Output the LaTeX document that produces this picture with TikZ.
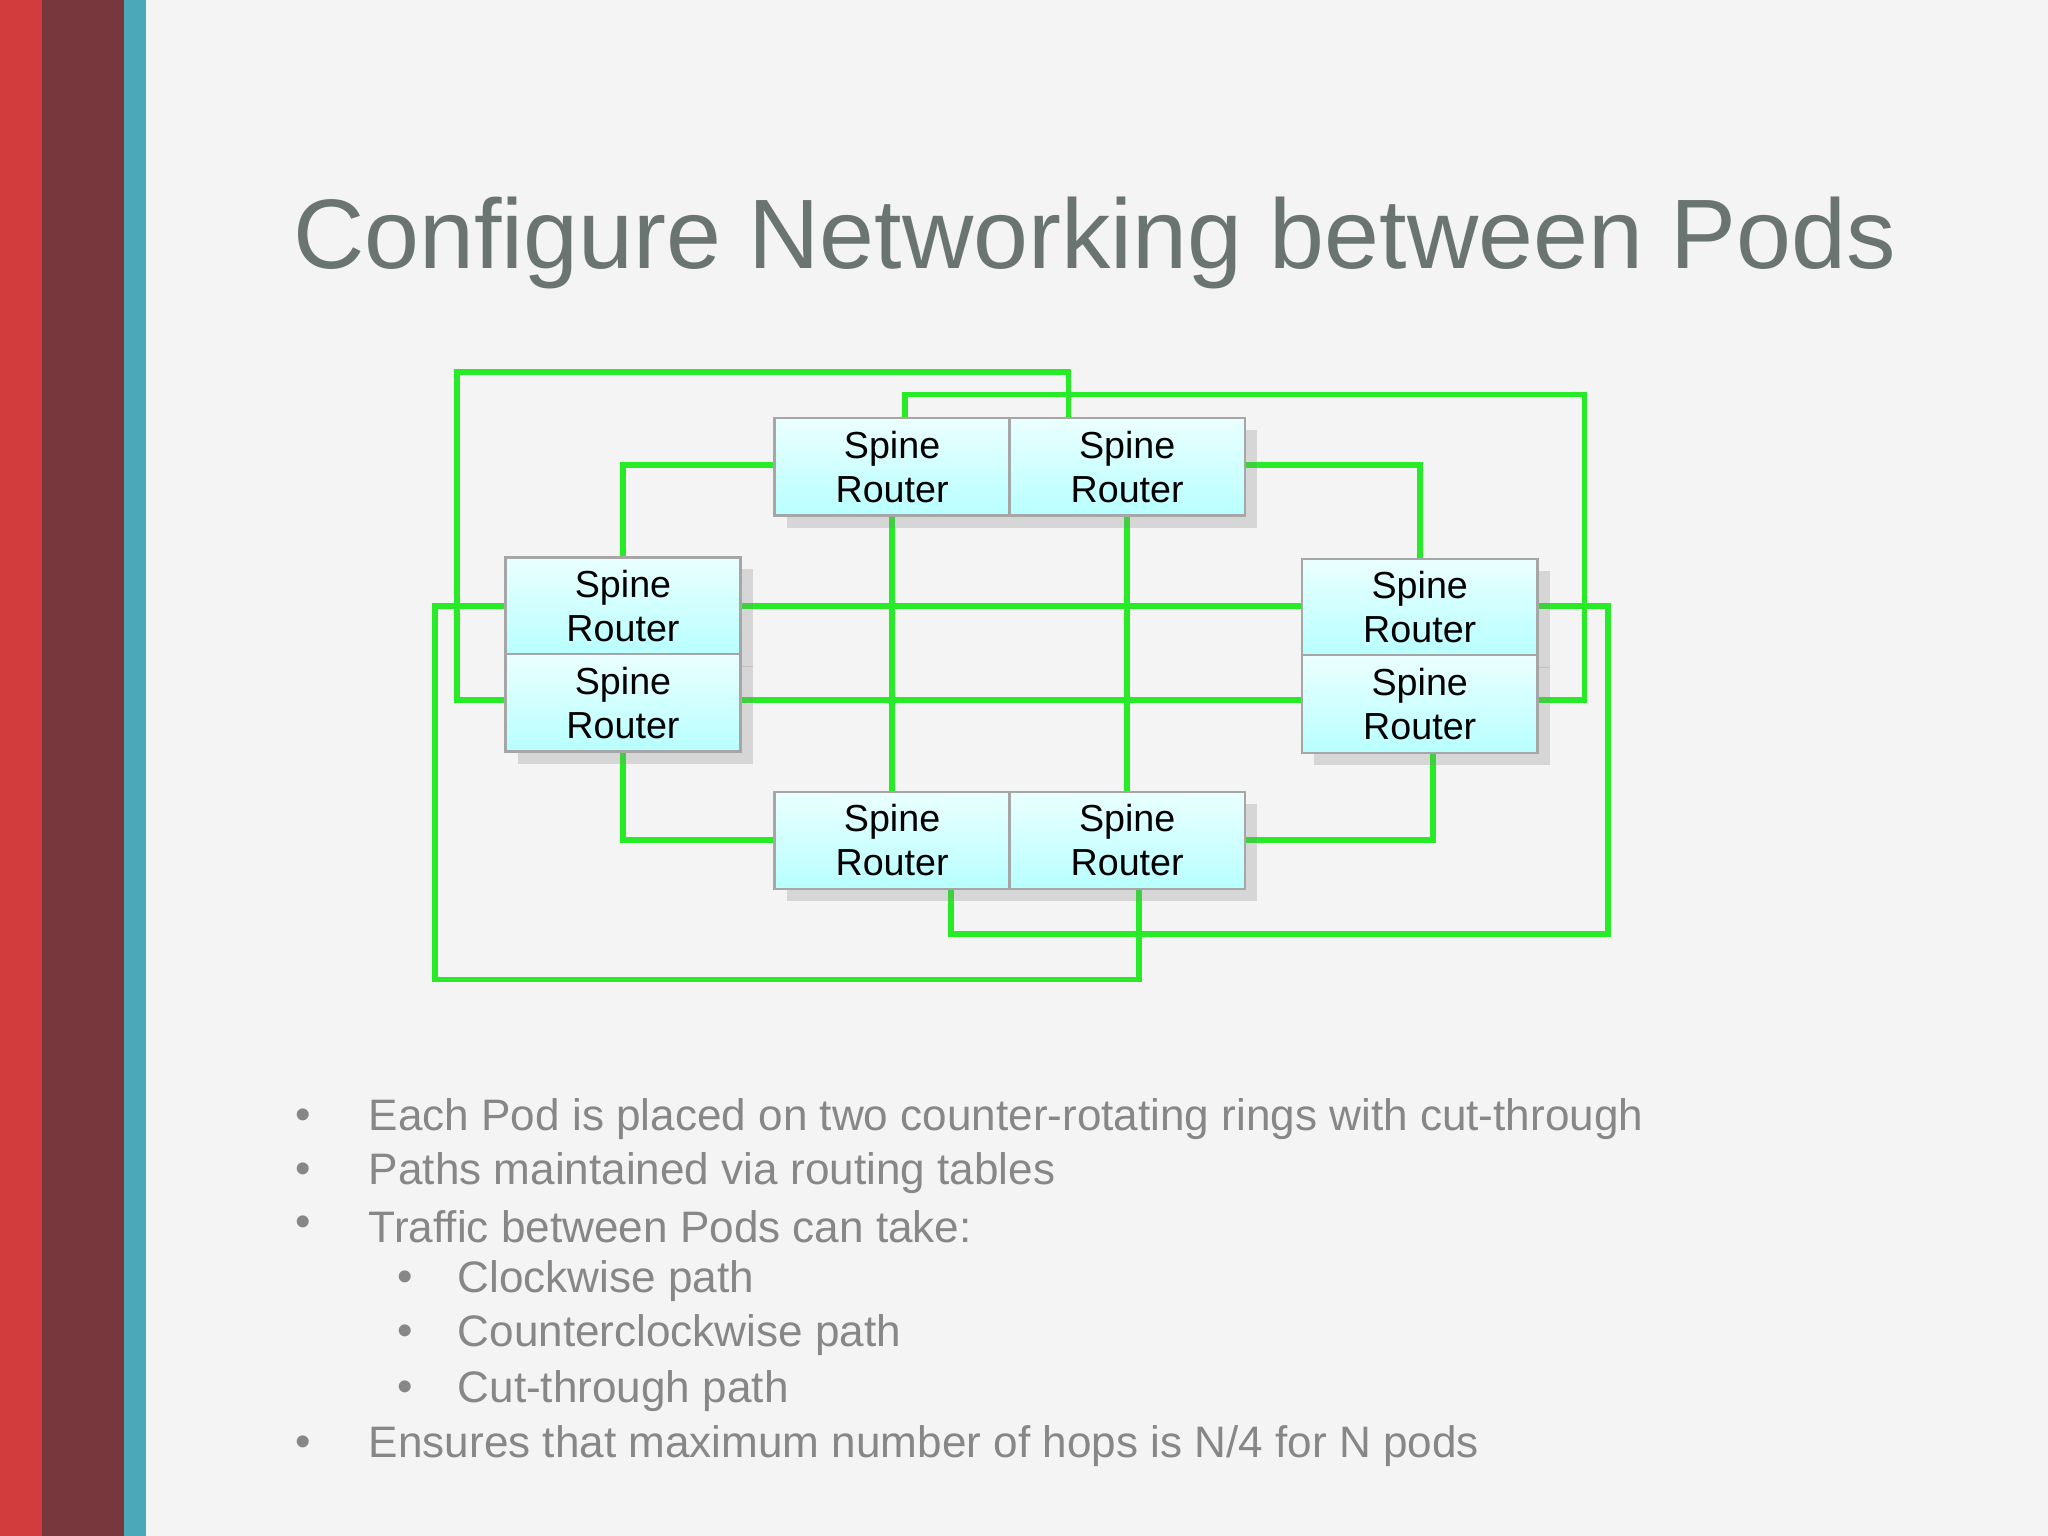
\documentclass[tikz,border=0pt]{standalone}
\usepackage{fontspec}
\setmainfont{Liberation Sans}
\usetikzlibrary{shadows}
\definecolor{maroon}{RGB}{120,55,60}
\definecolor{tealc}{RGB}{75,168,185}
\definecolor{redc}{RGB}{210,60,60}
\definecolor{lgreen}{RGB}{40,235,40}
\definecolor{titlec}{RGB}{106,116,112}
\definecolor{bulc}{RGB}{135,135,135}
\definecolor{bgc}{RGB}{244,244,244}
\begin{document}
\begin{tikzpicture}[x=0.01cm,y=-0.01cm,
 box/.style={draw=gray!70,line width=0.5pt,minimum width=1.8cm,minimum height=0.745cm,top color=cyan!8,bottom color=cyan!28,align=center,font=\fontsize{8.2pt}{9.6pt}\selectfont,inner sep=0pt,drop shadow={opacity=0.25}},
 link/.style={draw=lgreen,line width=1.2pt},
 txt/.style={anchor=west,text=bulc,font=\fontsize{9.6pt}{11pt}\selectfont}]
\fill[bgc] (0,0) rectangle (1568,1176);
\useasboundingbox (0,0) rectangle (1568,1176);
\fill[redc] (0,0) rectangle (32,1176);
\fill[maroon] (32,0) rectangle (95,1176);
\fill[tealc] (95,0) rectangle (112,1176);
\node[anchor=west,text=titlec,font=\fontsize{21.5pt}{24pt}\selectfont] (title) at (212,186) {Configure Networking between Pods};
\coordinate (tl) at (683,357.5); \coordinate (tr) at (863,357.5);
\coordinate (la) at (477,464); \coordinate (lb) at (477,538);
\coordinate (ra) at (1087,465); \coordinate (rb) at (1087,539);
\coordinate (bl) at (683,643.5); \coordinate (br) at (863,643.5);
\coordinate (c1) at (350,536); \coordinate (c2) at (350,285); \coordinate (c3) at (818,285);
\draw[link] (387,536) -- (c1) -- (c2) -- (c3) -- (818,320);
\coordinate (d1) at (693,302); \coordinate (d2) at (1213,302); \coordinate (d3) at (1213,536);
\draw[link] (693,320) -- (d1) -- (d2) -- (d3) -- (1177,536);
\coordinate (e1) at (477,356);
\draw[link] (593,356) -- (e1) -- (477,427);
\coordinate (f1) at (1087,356);
\draw[link] (953,356) -- (f1) -- (1087,428);
\draw[link] (567,464) -- (997,464);
\draw[link] (567,536) -- (997,536);
\draw[link] (683,395) -- (683,606);
\draw[link] (863,395) -- (863,606);
\coordinate (g1) at (333,464); \coordinate (g2) at (333,750); \coordinate (g3) at (872,750);
\draw[link] (387,464) -- (g1) -- (g2) -- (g3) -- (872,681);
\coordinate (h1) at (1231,464); \coordinate (h2) at (1231,715); \coordinate (h3) at (728,715);
\draw[link] (1177,464) -- (h1) -- (h2) -- (h3) -- (728,681);
\coordinate (i1) at (477,643);
\draw[link] (477,575) -- (i1) -- (593,643);
\coordinate (j1) at (1097,643);
\draw[link] (1097,576) -- (j1) -- (953,643);
\foreach \n in {tl,tr,la,lb,ra,rb,bl,br}
  \node[box] (\n box) at (\n) {Spine\\Router};
\foreach \y/\t [count=\i] in {857/{Each Pod is placed on two counter-rotating rings with cut-through},898/{Paths maintained via routing tables},939/{Traffic between Pods can take:},1107/{Ensures that maximum number of hops is N/4 for N pods}}{
  \node[txt] (b\i) at (270,\y) {\t};
  \node[txt] (bd\i) at (214,\y) {\textbullet};}
\foreach \y/\t [count=\i] in {981/{Clockwise path},1022/{Counterclockwise path},1065/{Cut-through path}}{
  \node[txt] (s\i) at (338,\y) {\t};
  \node[txt] (sd\i) at (292,\y) {\textbullet};}
\end{tikzpicture}
\end{document}
